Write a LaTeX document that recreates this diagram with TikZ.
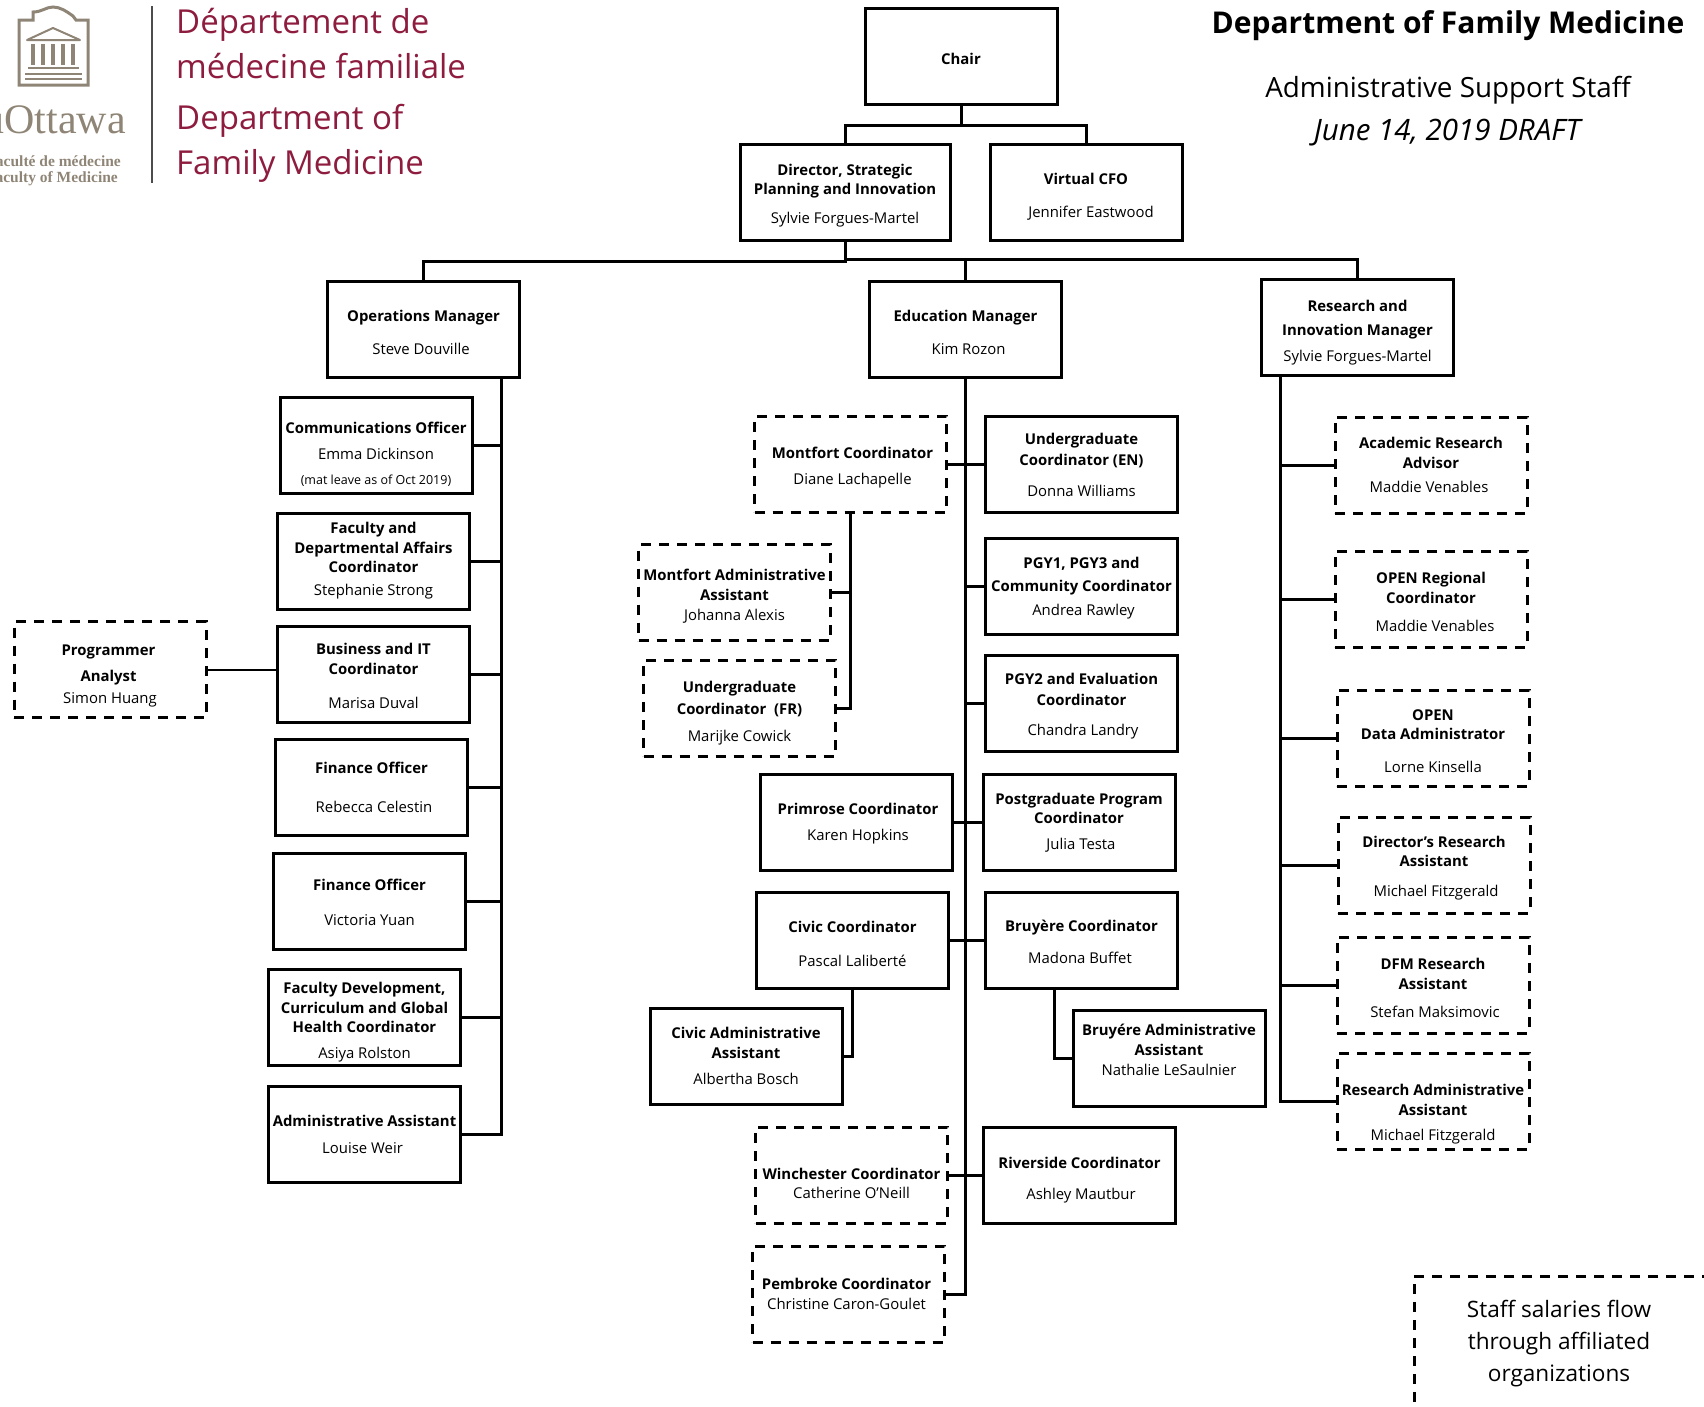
\documentclass[tikz,border=0pt]{standalone}
\usepackage{fontspec}
\setmainfont{Open Sans}
\newfontfamily\logosans{Open Sans}
\newfontfamily\logoserif{Liberation Serif}
\usetikzlibrary{calc}

\definecolor{crestgrey}{HTML}{8F8576}
\definecolor{deptred}{HTML}{8E1C3F}

\newcommand{\boxfont}{\fontsize{14.9}{19.5}\selectfont}
%% push the text of a box down or up
\newcommand{\drop}[1]{\rule{0pt}{\dimexpr 11.5pt+2.17\dimexpr #1pt\relax\relax}}
\newcommand{\lift}[1]{\rule[\dimexpr -5pt-2.17\dimexpr #1pt\relax\relax]{0pt}{1pt}}

\tikzset{
  orgbox/.style={draw, line width=3pt, minimum width=192pt, minimum height=96pt,
    inner sep=0pt, align=center, font=\boxfont},
  dashbox/.style={orgbox, dash pattern=on 10pt off 8pt},
  conn/.style={line width=3pt, line cap=rect},
  redline/.style={text=deptred, anchor=west, inner sep=0pt, font=\logosans\fontsize{33}{33}\selectfont},
}

\begin{document}
\begin{tikzpicture}[x=1pt, y=-1pt]

\useasboundingbox (0,0) rectangle (1704,1406);
\clip (0,0) rectangle (1704,1406);

%% logo
\draw[crestgrey, line width=3pt, line join=miter]
  (19,85) -- (19,20) -- (33,20) -- (33,12) .. controls (42,12) and (46,7) .. (53,7)
  .. controls (60,7) and (66,11) .. (73,16) -- (76,20) -- (88,20) -- (88,85) -- cycle;
\draw[crestgrey, line width=2pt, line join=round] (27,40) -- (53,28) -- (80,40) -- cycle;
\foreach \colX in {33,43,53,63,73}
  \draw[crestgrey, line width=4pt] (\colX,44) -- (\colX,65);
\draw[crestgrey, line width=2pt] (28,68) -- (79,68);
\draw[crestgrey, line width=2pt] (25,74) -- (82,74);
\draw[crestgrey, line width=2pt] (25,79) -- (82,79);

\node[text=crestgrey, anchor=east, inner sep=0pt, font=\logoserif\fontsize{42}{42}\selectfont] (uottawa) at (126,120) {uOttawa};
\node[text=crestgrey, anchor=east, inner sep=0pt, font=\logoserif\bfseries\fontsize{15.5}{16}\selectfont] (facfr) at (121,161) {Faculté de médecine};
\node[text=crestgrey, anchor=east, inner sep=0pt, font=\logoserif\bfseries\fontsize{15.5}{16}\selectfont] (facen) at (118,179) {Faculty of Medicine};
\draw[black!70, line width=2.5pt] (152,6) -- (152,183);

\node[redline] (deptfrone) at (176,25) {Département de};
\node[redline] (deptfrtwo) at (176,66) {médecine familiale};
\node[redline] (deptenone) at (176,121) {Department of};
\node[redline] (deptentwo) at (176,166) {Family Medicine};

%% titles
\node[inner sep=0pt, font=\bfseries\fontsize{30}{30}\selectfont] (title) at (1448,26) {Department of Family Medicine};
\node[inner sep=0pt, font=\fontsize{27.8}{28}\selectfont] (subtitle) at (1448,90) {Administrative Support Staff};
\node[inner sep=0pt, font=\itshape\fontsize{29.5}{30}\selectfont] (datedraft) at (1447,133) {June 14, 2019 DRAFT};

%% top of the chart
\node[orgbox] (chair) at (961,56.5) {\drop{2}\textbf{Chair}};
\node[orgbox, minimum width=210pt] (director) at (845,192.5) {\drop{2.5}\textbf{Director, Strategic}\\\textbf{Planning and Innovation}\\[9pt]Sylvie Forgues-Martel};
\node[orgbox] (cfo) at (1086,192.5) {\drop{4}\textbf{Virtual CFO}\\[13pt]\kern10pt Jennifer Eastwood};

\node[orgbox] (opsmgr) at (423.5,329) {\drop{3}\textbf{Operations Manager}\\[13pt]Steve Douville\kern5pt};
\node[orgbox] (edumgr) at (965.5,329) {\drop{3}\textbf{Education Manager}\\[13pt]\kern6pt Kim Rozon};
\node[orgbox] (resmgr) at (1357.5,327) {\drop{5.5}\textbf{Research and}\\[4.5pt]\textbf{Innovation Manager}\\[6.6pt]Sylvie Forgues-Martel};

\coordinate (topbus) at (961,125);
\coordinate (lowbus) at (845,261);
\coordinate (highbus) at (845,259);

\draw[conn] (chair.south) -- (topbus);
\draw[conn] (director.north) |- (topbus) -| (cfo.north);
\draw[conn] (director.south) -- (lowbus) -| (opsmgr.north);
\draw[conn] (highbus) -| (resmgr.north);
\draw[conn] (edumgr.north) -- (edumgr.north |- highbus);

%% operations column
\node[orgbox] (commoff) at (376,445) {\drop{8.5}\textbf{Communications Officer}\\[6.6pt]Emma Dickinson\\[5.5pt]{\fontsize{12.5}{15}\selectfont (mat leave as of Oct 2019)}};
\node[orgbox] (facaffairs) at (373.5,561) {\textbf{Faculty and}\\\textbf{Departmental Affairs}\\\textbf{Coordinator}\\[3.4pt]Stephanie Strong};
\node[orgbox] (busit) at (373.5,674) {\drop{2}\textbf{Business and IT}\\\textbf{Coordinator}\\[15pt]Marisa Duval};
\node[orgbox] (finone) at (371.5,787.5) {\textbf{Finance Officer}\\[19.5pt]\kern5pt Rebecca Celestin};
\node[orgbox] (fintwo) at (369.5,901) {\drop{1}\textbf{Finance Officer}\\[15pt]Victoria Yuan};
\node[orgbox] (facdev) at (364.5,1017) {\drop{5}\textbf{Faculty Development,}\\\textbf{Curriculum and Global}\\\textbf{Health Coordinator}\\[6.6pt]Asiya Rolston};
\node[orgbox] (adminast) at (364.5,1134.5) {\textbf{Administrative Assistant}\\[7.7pt]Louise Weir\kern4pt};
\node[dashbox] (programmer) at (110,669.5) {\drop{5.5}\textbf{Programmer}\kern3pt\\[6.6pt]\textbf{Analyst}\kern3pt\\[2.3pt]Simon Huang};

\coordinate (opstop) at (501,377);
\coordinate (opsend) at (501,1134.5);
\draw[conn] (opstop) -- (opsend);
\foreach \staff in {commoff, facaffairs, busit, finone, fintwo, facdev, adminast}
  \draw[conn] (\staff.east) -- (\staff.east -| opstop);
\draw[conn, line width=2pt] (programmer.east) -- (busit.west |- programmer.east);

%% education column
\node[dashbox] (montfort) at (850.5,464) {\drop{3.5}\kern4pt\textbf{Montfort Coordinator}\\[6.6pt]\kern4pt Diane Lachapelle};
\node[orgbox] (ugen) at (1081.5,464) {\drop{0.5}\textbf{Undergraduate}\\[2.3pt]\textbf{Coordinator (EN)}\\[11pt]Donna Williams};
\node[dashbox] (montadmin) at (734.5,592.5) {\drop{3}\textbf{Montfort Administrative}\\[1pt]\textbf{Assistant}\\Johanna Alexis};
\node[dashbox] (ugfr) at (739.5,708) {\drop{5}\textbf{Undergraduate}\\[2.3pt]\textbf{Coordinator\ \ (FR)}\\[7.7pt]Marijke Cowick};
\node[orgbox] (pgyone) at (1081.5,586) {\drop{1.5}\textbf{PGY1, PGY3 and}\\[3.4pt]\textbf{Community Coordinator}\\[4.5pt]\kern4pt Andrea Rawley};
\node[orgbox] (pgytwo) at (1081.5,703) {\drop{3}\textbf{PGY2 and Evaluation}\\[1pt]\textbf{Coordinator}\\[11pt]\kern3pt Chandra Landry};
\node[orgbox] (primrose) at (856,822) {\drop{1.5}\kern4pt\textbf{Primrose Coordinator}\\[6.6pt]\kern4pt Karen Hopkins};
\node[orgbox] (postgrad) at (1079,822) {\drop{0.5}\textbf{Postgraduate Program}\\\textbf{Coordinator}\\[6.6pt]\kern4pt Julia Testa};
\node[orgbox] (civic) at (852.5,940) {\drop{3.5}\textbf{Civic Coordinator}\\[15pt]Pascal Laliberté};
\node[orgbox] (bruyere) at (1081.5,940) {\drop{1.5}\textbf{Bruyère Coordinator}\\[12pt]Madona Buffet\kern3pt};
\node[orgbox] (civicadmin) at (746,1056) {\textbf{Civic Administrative}\\\textbf{Assistant}\\[6.6pt]Albertha Bosch};
\node[orgbox] (bruyadmin) at (1169,1058.5) {\textbf{Bruyére Administrative}\\[1pt]\textbf{Assistant}\\Nathalie LeSaulnier\lift{6}};
\node[dashbox] (winchester) at (851.5,1175) {\drop{7.5}\textbf{Winchester Coordinator}\\Catherine O'Neill};
\node[orgbox] (riverside) at (1079.5,1175) {\drop{4.5}\textbf{Riverside Coordinator}\\[12pt]\kern3pt Ashley Mautbur};
\node[dashbox] (pembroke) at (848.5,1294) {\textbf{Pembroke Coordinator}\kern4pt\\Christine Caron-Goulet\kern4pt};

\draw[conn] (edumgr.south) -- (edumgr.south |- pembroke.east) -- (pembroke.east);
\draw[conn] (montfort.east) -- (ugen.west);
\draw[conn] (primrose.east) -- (postgrad.west);
\draw[conn] (civic.east) -- (bruyere.west);
\draw[conn] (winchester.east) -- (riverside.west);
\foreach \staff in {pgyone, pgytwo}
  \draw[conn] (\staff.west) -- (\staff.west -| edumgr.south);

\draw[conn] (montfort.south) |- (ugfr.east);
\draw[conn] (montadmin.east) -- (montadmin.east -| montfort.south);
\draw[conn] (civic.south) |- (civicadmin.east);
\coordinate (bruyfoot) at (1054,988);
\draw[conn] (bruyfoot) |- (bruyadmin.west);

%% research column
\node[dashbox] (academic) at (1431,465) {\textbf{Academic Research}\\\textbf{Advisor}\\[5pt]Maddie Venables\kern4pt};
\node[dashbox] (openreg) at (1431,599) {\drop{2.5}\textbf{OPEN Regional}\\\textbf{Coordinator}\\[8.8pt]\kern8pt Maddie Venables};
\node[dashbox] (opendata) at (1433,738) {\drop{2.5}\textbf{OPEN}\\\textbf{Data Administrator}\\[13pt]Lorne Kinsella};
\node[dashbox] (dirra) at (1434,865) {\drop{2.5}\textbf{Director's Research}\\\textbf{Assistant}\\[9.9pt]\kern4pt Michael Fitzgerald};
\node[dashbox] (dfmra) at (1433,985) {\drop{2.5}\textbf{DFM Research}\\[1pt]\textbf{Assistant}\\[8.8pt]\kern4pt Stefan Maksimovic};
\node[dashbox] (resadmin) at (1433,1101) {\drop{12}\textbf{Research Administrative}\\[1pt]\textbf{Assistant}\\[5.5pt]Michael Fitzgerald};

\coordinate (restop) at (1280,375);
\coordinate (resend) at (1280,1101);
\draw[conn] (restop) -- (resend);
\foreach \staff in {academic, openreg, opendata, dirra, dfmra, resadmin}
  \draw[conn] (\staff.west) -- (\staff.west -| restop);

%% note, runs off the page
\node[draw, line width=3pt, dash pattern=on 10pt off 8pt, minimum width=460pt, minimum height=260pt] (salaries) at (1644,1406) {};
\node[inner sep=0pt, align=center, font=\fontsize{22.6}{32}\selectfont] (salariestext) at (1559,1344) {Staff salaries flow\\through affiliated\\organizations};

\end{tikzpicture}
\end{document}
